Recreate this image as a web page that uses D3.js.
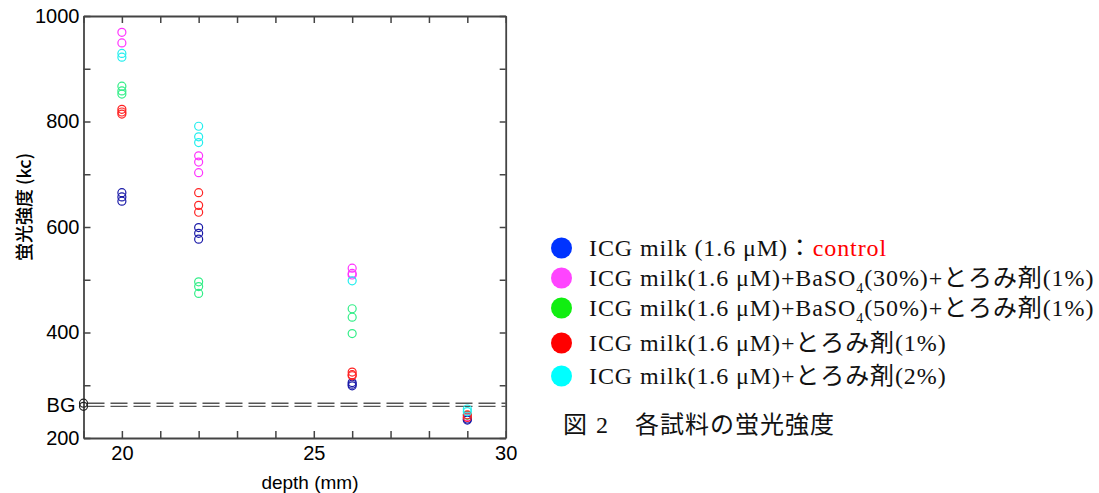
<!DOCTYPE html>
<html><head><meta charset="utf-8">
<script src="https://cdn.jsdelivr.net/npm/d3@7"></script>
<style>
body{margin:0;background:#fff;}
svg{display:block;}
</style></head>
<body>
<svg id="chart" width="1099" height="493"></svg>
<script>
// ---- data ----
const depths = [20, 22, 26, 29];
const seriesNames = [
  "ICG milk (1.6 μM)：",
  "ICG milk(1.6 μM)+BaSO4(30%)+とろみ剤(1%)",
  "ICG milk(1.6 μM)+BaSO4(50%)+とろみ剤(1%)",
  "ICG milk(1.6 μM)+とろみ剤(1%)",
  "ICG milk(1.6 μM)+とろみ剤(2%)"
];
// values per depth (aligned with depths)
const baso30 = [[969, 949], [735, 723, 703], [522, 512, 509], [240]];
const baso50 = [[867, 858, 852], [496, 487, 474], [445, 429, 398], [243]];
const control = [[665, 657, 649], [599, 588, 577], [305, 302, 299], [236, 234]];
const thick1 = [[823, 818, 814], [665, 641, 628], [325, 320, 318], [244, 239]];
const thick2 = [[929, 922], [791, 771, 760], [498], [255, 250]];
const bgValues = [266, 260];
const bgDepth = 19;
const yTickLabels = [200, 400, 600, 800, 1000];
const xTickLabels = [20, 25, 30];
const xLabel = "depth (mm)";
const yLabel = "蛍光強度 (kc)";
const captionParts = ["図", "2", "各試料の蛍光強度"];

// ---- layout ----
const svg = d3.select("#chart");
const L = 83.5, R = 505.7, T = 16, B = 438;
const x = d3.scaleLinear().domain([19, 30]).range([L, R]);
const y = d3.scaleLinear().domain([200, 1000]).range([B, T]);
const axisColor = "#444";
const tickFont = "'Liberation Sans', Arial, sans-serif";

function styleAxis(g) {
  g.select(".domain").attr("stroke", axisColor).attr("stroke-width", 1.8);
  g.selectAll(".tick line").attr("stroke", axisColor).attr("stroke-width", 1.5);
  g.selectAll(".tick text").attr("fill", "#000").attr("font-family", tickFont).attr("font-size", 20);
}

const yTicks = d3.range(200, 1001, 100);
const xTicks = d3.range(19, 31, 1);

// BG dashed lines (behind axes)
svg.append("g").selectAll("line").data(bgValues).join("line")
  .attr("x1", x(19) + 4).attr("x2", R)
  .attr("y1", d => y(d)).attr("y2", d => y(d))
  .attr("stroke", "#555").attr("stroke-width", 1.4)
  .attr("stroke-dasharray", "17,6");

svg.append("g").attr("transform", `translate(${L},0)`)
  .call(d3.axisLeft(y).tickValues(yTicks).tickSizeInner(-7).tickSizeOuter(0).tickPadding(4)
    .tickFormat(d => yTickLabels.includes(d) ? d : ""))
  .call(styleAxis);
svg.append("g").attr("transform", `translate(${R},0)`)
  .call(d3.axisRight(y).tickValues(yTicks).tickSizeInner(-6).tickSizeOuter(0).tickFormat(""))
  .call(styleAxis);
svg.append("g").attr("transform", `translate(0,${B})`)
  .call(d3.axisBottom(x).tickValues(xTicks).tickSizeInner(-7).tickSizeOuter(0).tickPadding(8)
    .tickFormat(d => xTickLabels.includes(d) ? d : ""))
  .call(styleAxis);
svg.append("g").attr("transform", `translate(0,${T})`)
  .call(d3.axisTop(x).tickValues(xTicks).tickSizeInner(-7).tickSizeOuter(0).tickFormat(""))
  .call(styleAxis);

// BG label and markers
svg.append("text").attr("x", L - 8).attr("y", y(263)).attr("dy", "0.36em")
  .attr("text-anchor", "end").attr("font-family", tickFont).attr("font-size", 20).text("BG");
svg.append("g").selectAll("circle").data(bgValues).join("circle")
  .attr("cx", x(bgDepth)).attr("cy", d => y(d)).attr("r", 4)
  .attr("fill", "none").attr("stroke", "#222").attr("stroke-width", 1.2);

// axis titles
svg.append("text").attr("x", x(24.9)).attr("y", 489)
  .attr("text-anchor", "middle").attr("font-family", tickFont).attr("font-size", 19).text(xLabel);
svg.append("text").attr("transform", `translate(31,207) rotate(-90)`)
  .attr("text-anchor", "middle").attr("font-family", "'Noto Sans CJK JP', 'Liberation Sans', sans-serif")
  .attr("font-size", 18).attr("font-weight", 500).text(yLabel);

// points
const plotSeries = [
  { data: baso30, color: "#ff33ff" },
  { data: baso50, color: "#33ee88" },
  { data: control, color: "#1a1aa8" },
  { data: thick1, color: "#ff2222" },
  { data: thick2, color: "#22eeee" }
];
plotSeries.forEach(s => {
  const pts = [];
  s.data.forEach((vals, i) => vals.forEach(v => pts.push([depths[i], v])));
  svg.append("g").selectAll("circle").data(pts).join("circle")
    .attr("cx", d => x(d[0])).attr("cy", d => y(d[1])).attr("r", 4)
    .attr("fill", "none").attr("stroke", s.color).attr("stroke-width", 1.2);
});

// legend
const legendColors = ["#0033ff", "#ff44ff", "#11ee11", "#ff0000", "#00ffff"];
const legendY = [248, 278, 308, 343, 376];
const serif = "'Liberation Serif', 'Noto Sans CJK JP', serif";
const lg = svg.append("g");
legendColors.forEach((c, i) => {
  lg.append("circle").attr("cx", 561.5).attr("cy", legendY[i]).attr("r", 10.5).attr("fill", c);
  const t = lg.append("text").attr("x", 589).attr("y", legendY[i] + 8)
    .attr("font-family", serif).attr("font-size", 24).attr("letter-spacing", 0.9).attr("fill", "#111");
  const name = seriesNames[i];
  if (i === 0) {
    t.append("tspan").text(name);
    t.append("tspan").attr("fill", "#ff0000").text("control");
  } else if (name.includes("BaSO4")) {
    const parts = name.split("BaSO4");
    t.append("tspan").text(parts[0] + "BaSO");
    t.append("tspan").attr("font-size", 14).attr("dy", 7).text("4");
    t.append("tspan").attr("dy", -7).text(parts[1]);
  } else {
    t.append("tspan").text(name);
  }
});
const cap = svg.append("text").attr("y", 433)
  .attr("font-family", serif).attr("font-size", 24).attr("letter-spacing", 1).attr("fill", "#111");
const capX = [563, 596, 635];
captionParts.forEach((p, i) => cap.append("tspan").attr("x", capX[i]).text(p));
</script>
</body></html>
